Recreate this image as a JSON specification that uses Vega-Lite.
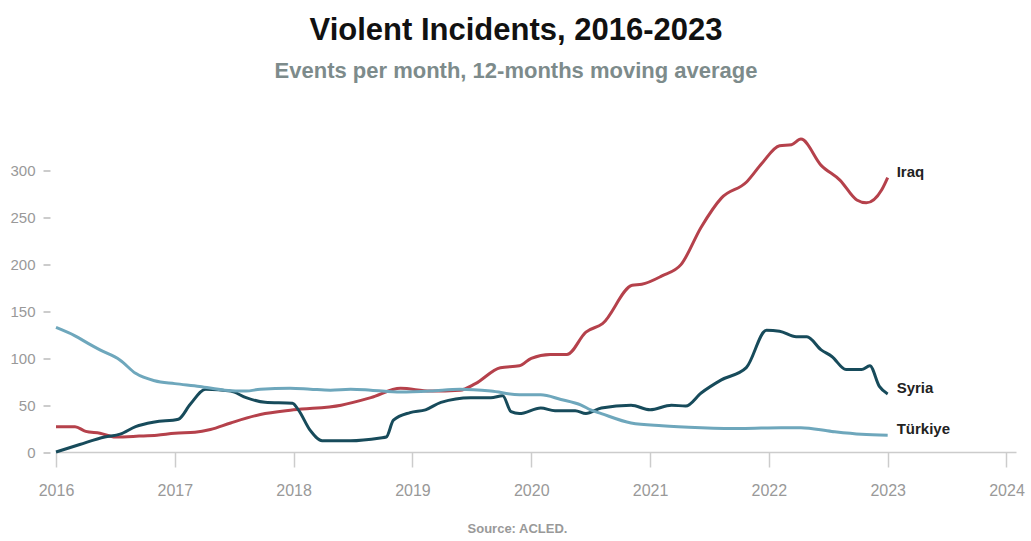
{
  "$schema": "https://vega.github.io/schema/vega-lite/v6.json",
  "autosize": {"type": "none"},
  "padding": {"left": 56, "top": 133.5, "right": 14, "bottom": 89},
  "width": 960,
  "height": 318.5,
  "background": "white",
  "config": {"view": {"stroke": null}, "font": "Liberation Sans"},
  "title": {
    "text": "Violent Incidents, 2016-2023",
    "subtitle": "Events per month, 12-months moving average",
    "anchor": "middle",
    "frame": "group",
    "dx": -20,
    "offset": 50,
    "font": "Liberation Sans",
    "fontSize": 31,
    "fontWeight": "bold",
    "color": "#111111",
    "subtitleFont": "Liberation Sans",
    "subtitleFontSize": 22,
    "subtitleFontWeight": "bold",
    "subtitleColor": "#7d8b8b",
    "subtitlePadding": 14
  },
  "data": {
    "values": [
      {"country": "Iraq", "t": 2016.0, "v": 27}, {"country": "Iraq", "t": 2016.16, "v": 27}, {"country": "Iraq", "t": 2016.25, "v": 22}, {"country": "Iraq", "t": 2016.37, "v": 20}, {"country": "Iraq", "t": 2016.5, "v": 16}, {"country": "Iraq", "t": 2016.7, "v": 17}, {"country": "Iraq", "t": 2016.85, "v": 18}, {"country": "Iraq", "t": 2017.0, "v": 20}, {"country": "Iraq", "t": 2017.17, "v": 21}, {"country": "Iraq", "t": 2017.3, "v": 24}, {"country": "Iraq", "t": 2017.47, "v": 31}, {"country": "Iraq", "t": 2017.72, "v": 40}, {"country": "Iraq", "t": 2018.0, "v": 45}, {"country": "Iraq", "t": 2018.4, "v": 50}, {"country": "Iraq", "t": 2018.65, "v": 58}, {"country": "Iraq", "t": 2018.9, "v": 68}, {"country": "Iraq", "t": 2019.15, "v": 65}, {"country": "Iraq", "t": 2019.4, "v": 66}, {"country": "Iraq", "t": 2019.53, "v": 73}, {"country": "Iraq", "t": 2019.74, "v": 90}, {"country": "Iraq", "t": 2019.9, "v": 92}, {"country": "Iraq", "t": 2020.0, "v": 100}, {"country": "Iraq", "t": 2020.16, "v": 104}, {"country": "Iraq", "t": 2020.3, "v": 104}, {"country": "Iraq", "t": 2020.46, "v": 128}, {"country": "Iraq", "t": 2020.6, "v": 137}, {"country": "Iraq", "t": 2020.85, "v": 178}, {"country": "Iraq", "t": 2020.93, "v": 179}, {"country": "Iraq", "t": 2021.1, "v": 188}, {"country": "Iraq", "t": 2021.26, "v": 200}, {"country": "Iraq", "t": 2021.43, "v": 240}, {"country": "Iraq", "t": 2021.6, "v": 271}, {"country": "Iraq", "t": 2021.81, "v": 288}, {"country": "Iraq", "t": 2021.94, "v": 308}, {"country": "Iraq", "t": 2022.09, "v": 327}, {"country": "Iraq", "t": 2022.19, "v": 328}, {"country": "Iraq", "t": 2022.27, "v": 334}, {"country": "Iraq", "t": 2022.44, "v": 306}, {"country": "Iraq", "t": 2022.6, "v": 290}, {"country": "Iraq", "t": 2022.74, "v": 269}, {"country": "Iraq", "t": 2022.82, "v": 266}, {"country": "Iraq", "t": 2022.95, "v": 280}, {"country": "Iraq", "t": 2023.0, "v": 293},
      {"country": "Syria", "t": 2016.0, "v": 0}, {"country": "Syria", "t": 2016.2, "v": 8}, {"country": "Syria", "t": 2016.41, "v": 16}, {"country": "Syria", "t": 2016.54, "v": 19}, {"country": "Syria", "t": 2016.67, "v": 27}, {"country": "Syria", "t": 2016.83, "v": 32}, {"country": "Syria", "t": 2017.03, "v": 35}, {"country": "Syria", "t": 2017.13, "v": 51}, {"country": "Syria", "t": 2017.26, "v": 67}, {"country": "Syria", "t": 2017.47, "v": 65}, {"country": "Syria", "t": 2017.6, "v": 58}, {"country": "Syria", "t": 2017.76, "v": 53}, {"country": "Syria", "t": 2017.99, "v": 52}, {"country": "Syria", "t": 2018.04, "v": 45}, {"country": "Syria", "t": 2018.14, "v": 23}, {"country": "Syria", "t": 2018.24, "v": 12}, {"country": "Syria", "t": 2018.48, "v": 12}, {"country": "Syria", "t": 2018.73, "v": 15}, {"country": "Syria", "t": 2018.78, "v": 16}, {"country": "Syria", "t": 2018.84, "v": 34}, {"country": "Syria", "t": 2018.98, "v": 42}, {"country": "Syria", "t": 2019.11, "v": 45}, {"country": "Syria", "t": 2019.24, "v": 53}, {"country": "Syria", "t": 2019.49, "v": 58}, {"country": "Syria", "t": 2019.66, "v": 58}, {"country": "Syria", "t": 2019.76, "v": 60}, {"country": "Syria", "t": 2019.83, "v": 43}, {"country": "Syria", "t": 2019.9, "v": 41}, {"country": "Syria", "t": 2020.08, "v": 47}, {"country": "Syria", "t": 2020.2, "v": 44}, {"country": "Syria", "t": 2020.37, "v": 44}, {"country": "Syria", "t": 2020.46, "v": 41}, {"country": "Syria", "t": 2020.59, "v": 47}, {"country": "Syria", "t": 2020.84, "v": 50}, {"country": "Syria", "t": 2021.0, "v": 45}, {"country": "Syria", "t": 2021.18, "v": 50}, {"country": "Syria", "t": 2021.3, "v": 49}, {"country": "Syria", "t": 2021.43, "v": 63}, {"country": "Syria", "t": 2021.6, "v": 77}, {"country": "Syria", "t": 2021.81, "v": 90}, {"country": "Syria", "t": 2021.98, "v": 130}, {"country": "Syria", "t": 2022.09, "v": 129}, {"country": "Syria", "t": 2022.23, "v": 123}, {"country": "Syria", "t": 2022.32, "v": 123}, {"country": "Syria", "t": 2022.44, "v": 109}, {"country": "Syria", "t": 2022.53, "v": 102}, {"country": "Syria", "t": 2022.65, "v": 88}, {"country": "Syria", "t": 2022.78, "v": 88}, {"country": "Syria", "t": 2022.85, "v": 92}, {"country": "Syria", "t": 2022.93, "v": 70}, {"country": "Syria", "t": 2023.0, "v": 62},
      {"country": "Türkiye", "t": 2016.0, "v": 133}, {"country": "Türkiye", "t": 2016.16, "v": 124}, {"country": "Türkiye", "t": 2016.27, "v": 116}, {"country": "Türkiye", "t": 2016.37, "v": 109}, {"country": "Türkiye", "t": 2016.54, "v": 98}, {"country": "Türkiye", "t": 2016.67, "v": 84}, {"country": "Türkiye", "t": 2016.83, "v": 76}, {"country": "Türkiye", "t": 2017.0, "v": 73}, {"country": "Türkiye", "t": 2017.21, "v": 70}, {"country": "Türkiye", "t": 2017.42, "v": 66}, {"country": "Türkiye", "t": 2017.6, "v": 65}, {"country": "Türkiye", "t": 2017.72, "v": 67}, {"country": "Türkiye", "t": 2017.97, "v": 68}, {"country": "Türkiye", "t": 2018.14, "v": 67}, {"country": "Türkiye", "t": 2018.31, "v": 66}, {"country": "Türkiye", "t": 2018.48, "v": 67}, {"country": "Türkiye", "t": 2018.65, "v": 66}, {"country": "Türkiye", "t": 2018.9, "v": 64}, {"country": "Türkiye", "t": 2019.15, "v": 65}, {"country": "Türkiye", "t": 2019.4, "v": 67}, {"country": "Türkiye", "t": 2019.66, "v": 65}, {"country": "Türkiye", "t": 2019.9, "v": 61}, {"country": "Türkiye", "t": 2020.08, "v": 61}, {"country": "Türkiye", "t": 2020.25, "v": 56}, {"country": "Türkiye", "t": 2020.42, "v": 50}, {"country": "Türkiye", "t": 2020.5, "v": 45}, {"country": "Türkiye", "t": 2020.59, "v": 41}, {"country": "Türkiye", "t": 2020.84, "v": 31}, {"country": "Türkiye", "t": 2021.1, "v": 28}, {"country": "Türkiye", "t": 2021.43, "v": 26}, {"country": "Türkiye", "t": 2021.77, "v": 25}, {"country": "Türkiye", "t": 2022.1, "v": 26}, {"country": "Türkiye", "t": 2022.27, "v": 26}, {"country": "Türkiye", "t": 2022.53, "v": 22}, {"country": "Türkiye", "t": 2022.78, "v": 19}, {"country": "Türkiye", "t": 2023.0, "v": 18}
    ]
  },
  "encoding": {
    "x": {
      "field": "t", "type": "quantitative",
      "scale": {"domain": [2016, 2024.08], "nice": false, "zero": false},
      "axis": {
        "title": "Source: ACLED.",
        "titleFont": "Liberation Sans", "titleFontSize": 13, "titleFontWeight": "bold", "titleColor": "#999999",
        "titlePadding": 24, "titleX": 461,
        "values": [2016, 2017, 2018, 2019, 2020, 2021, 2022, 2023, 2024],
        "format": "d",
        "labelFlush": false,
        "labelOverlap": false,
        "grid": false,
        "domainColor": "#cccccc", "domainWidth": 1.5,
        "tickColor": "#cccccc", "tickSize": 15, "tickWidth": 1.5,
        "labelColor": "#999999", "labelFontSize": 16, "labelPadding": 15, "labelFont": "Liberation Sans"
      }
    },
    "y": {
      "field": "v", "type": "quantitative",
      "scale": {"domain": [0, 340], "nice": false},
      "axis": {
        "title": null,
        "values": [0, 50, 100, 150, 200, 250, 300],
        "grid": false, "domain": false,
        "offset": 6,
        "tickColor": "#bbbbbb", "tickSize": 7, "tickWidth": 1.5,
        "labelColor": "#999999", "labelFontSize": 15, "labelPadding": 8, "labelFont": "Liberation Sans"
      }
    },
    "color": {
      "field": "country", "type": "nominal",
      "scale": {"domain": ["Iraq", "Syria", "Türkiye"], "range": ["#b5414b", "#174b5b", "#6ea7bc"]},
      "legend": null
    }
  },
  "layer": [
    {
      "mark": {"type": "line", "strokeWidth": 3, "interpolate": "monotone"}
    },
    {
      "transform": [
        {"joinaggregate": [{"op": "max", "field": "t", "as": "tmax"}], "groupby": ["country"]},
        {"filter": "datum.t === datum.tmax"}
      ],
      "mark": {"type": "text", "align": "left", "baseline": "middle", "dx": 9, "dy": -6, "fontSize": 15, "fontWeight": "bold", "font": "Liberation Sans", "color": "#222222"},
      "encoding": {
        "text": {"field": "country"},
        "color": {"value": "#222222"}
      }
    }
  ]
}
